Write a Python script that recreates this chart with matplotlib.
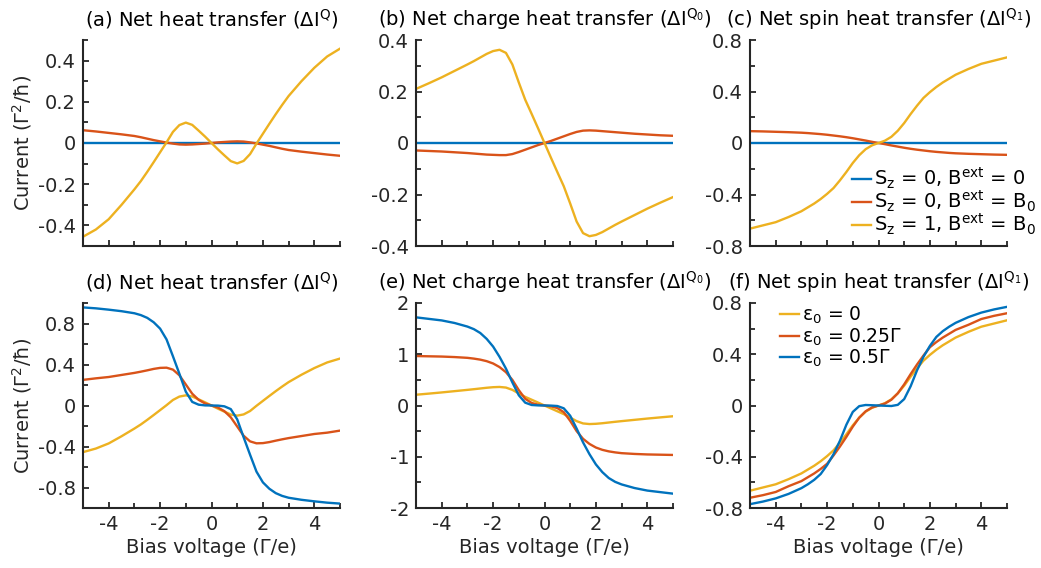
import matplotlib.pyplot as plt
from matplotlib.ticker import MultipleLocator

plt.rcParams['font.family'] = 'DejaVu Sans'
plt.rcParams['mathtext.fontset'] = 'dejavusans'
plt.rcParams['axes.unicode_minus'] = False

# bias voltage grid (Gamma/e)
bias = [-5, -4.5, -4, -3.5, -3, -2.75, -2.5, -2.25, -2, -1.75, -1.5, -1.25, -1, -0.75, -0.5, -0.25, 0,
        0.25, 0.5, 0.75, 1, 1.25, 1.5, 1.75, 2, 2.25, 2.5, 2.75, 3, 3.5, 4, 4.5, 5]

# top row: Sz = 0, B = 0 (all zero)
zero_line = [0.0] * 33

# Sz = 1, B = B0  (same as eps0 = 0 in bottom row)
heat_s1 = [-0.455, -0.42, -0.37, -0.30, -0.225, -0.185, -0.14, -0.093, -0.045, 0.003, 0.054, 0.087, 0.099, 0.088, 0.06, 0.031, 0,
           -0.031, -0.06, -0.088, -0.099, -0.087, -0.054, -0.003, 0.045, 0.093, 0.14, 0.185, 0.228, 0.30, 0.365, 0.42, 0.458]
charge_s1 = [0.21, 0.232, 0.255, 0.28, 0.305, 0.318, 0.332, 0.346, 0.357, 0.362, 0.35, 0.305, 0.235, 0.168, 0.113, 0.057, 0,
             -0.057, -0.113, -0.168, -0.235, -0.305, -0.35, -0.362, -0.357, -0.346, -0.332, -0.318, -0.305, -0.28, -0.255, -0.232, -0.21]
spin_s1 = [-0.665, -0.64, -0.615, -0.575, -0.53, -0.50, -0.47, -0.435, -0.395, -0.35, -0.29, -0.225, -0.155, -0.095, -0.048, -0.018, 0,
           0.018, 0.048, 0.095, 0.155, 0.225, 0.29, 0.35, 0.395, 0.435, 0.47, 0.50, 0.53, 0.575, 0.615, 0.64, 0.665]

# Sz = 0, B = B0
heat_s0b = [0.062, 0.056, 0.049, 0.042, 0.034, 0.028, 0.021, 0.014, 0.008, 0.002, -0.003, -0.007, -0.008, -0.007, -0.005, -0.003, 0,
            0.003, 0.005, 0.007, 0.008, 0.007, 0.003, -0.002, -0.008, -0.014, -0.021, -0.028, -0.034, -0.042, -0.049, -0.056, -0.062]
charge_s0b = [-0.029, -0.031, -0.033, -0.036, -0.039, -0.041, -0.043, -0.045, -0.046, -0.047, -0.047, -0.043, -0.035, -0.026, -0.017, -0.008, 0,
              0.008, 0.017, 0.026, 0.035, 0.043, 0.048, 0.049, 0.048, 0.046, 0.044, 0.042, 0.04, 0.036, 0.033, 0.03, 0.028]
spin_s0b = [0.092, 0.09, 0.087, 0.084, 0.08, 0.077, 0.073, 0.069, 0.064, 0.058, 0.052, 0.045, 0.037, 0.028, 0.019, 0.009, 0,
            -0.009, -0.019, -0.028, -0.037, -0.045, -0.052, -0.058, -0.064, -0.069, -0.073, -0.077, -0.08, -0.084, -0.087, -0.09, -0.092]

# bottom row: eps0 = 0.25 Gamma
heat_e025 = [0.25, 0.265, 0.278, 0.298, 0.318, 0.33, 0.343, 0.357, 0.367, 0.369, 0.35, 0.295, 0.205, 0.115, 0.055, 0.02, 0,
             -0.02, -0.055, -0.115, -0.205, -0.295, -0.35, -0.369, -0.367, -0.357, -0.343, -0.33, -0.318, -0.298, -0.278, -0.265, -0.245]
charge_e025 = [0.965, 0.96, 0.955, 0.945, 0.93, 0.915, 0.895, 0.865, 0.82, 0.75, 0.65, 0.5, 0.3, 0.13, 0.05, 0.015, 0,
               -0.015, -0.05, -0.13, -0.3, -0.5, -0.65, -0.75, -0.82, -0.865, -0.895, -0.915, -0.93, -0.945, -0.955, -0.96, -0.965]
spin_e025 = [-0.72, -0.70, -0.675, -0.63, -0.59, -0.56, -0.53, -0.495, -0.455, -0.39, -0.32, -0.245, -0.165, -0.095, -0.045, -0.015, 0,
             0.015, 0.045, 0.095, 0.165, 0.245, 0.32, 0.39, 0.455, 0.495, 0.53, 0.56, 0.59, 0.63, 0.675, 0.70, 0.72]

# bottom row: eps0 = 0.5 Gamma
heat_e05 = [0.957, 0.948, 0.935, 0.92, 0.90, 0.882, 0.855, 0.812, 0.75, 0.645, 0.48, 0.31, 0.135, 0.035, 0.008, 0.001, 0,
            -0.001, -0.008, -0.035, -0.135, -0.31, -0.48, -0.645, -0.75, -0.812, -0.855, -0.882, -0.90, -0.92, -0.935, -0.948, -0.957]
charge_e05 = [1.72, 1.69, 1.66, 1.61, 1.54, 1.49, 1.415, 1.3, 1.15, 0.95, 0.72, 0.45, 0.2, 0.055, 0.01, 0.002, 0,
              -0.002, -0.01, -0.055, -0.2, -0.45, -0.72, -0.95, -1.15, -1.3, -1.415, -1.49, -1.54, -1.61, -1.66, -1.69, -1.72]
spin_e05 = [-0.77, -0.75, -0.725, -0.69, -0.645, -0.615, -0.58, -0.535, -0.465, -0.38, -0.275, -0.15, -0.05, -0.005, 0.004, 0.002, 0,
            -0.002, -0.004, 0.005, 0.05, 0.15, 0.275, 0.38, 0.465, 0.535, 0.58, 0.615, 0.645, 0.69, 0.725, 0.75, 0.77]

titles = ['(a) Net heat transfer (ΔI$^{\\mathrm{Q}}$)',
          '(b) Net charge heat transfer (ΔI$^{\\mathrm{Q}_0}$)',
          '(c) Net spin heat transfer (ΔI$^{\\mathrm{Q}_1}$)',
          '(d) Net heat transfer (ΔI$^{\\mathrm{Q}}$)',
          '(e) Net charge heat transfer (ΔI$^{\\mathrm{Q}_0}$)',
          '(f) Net spin heat transfer (ΔI$^{\\mathrm{Q}_1}$)']

top_labels = ['S$_\\mathrm{z}$ = 0, B$^{\\mathrm{ext}}$ = 0',
              'S$_\\mathrm{z}$ = 0, B$^{\\mathrm{ext}}$ = B$_0$',
              'S$_\\mathrm{z}$ = 1, B$^{\\mathrm{ext}}$ = B$_0$']
bot_labels = ['ε$_0$ = 0', 'ε$_0$ = 0.25Γ', 'ε$_0$ = 0.5Γ']

blue = '#0072BD'
red = '#D95319'
yellow = '#EDB120'
dark = '#262626'

W, H = 1041, 568
fig = plt.figure(figsize=(W / 100, H / 100), dpi=100)

lefts = [83, 416, 750]
axw = 257
rows = [(40, 246), (303, 508)]

ylims = [(-0.5, 0.5), (-0.4, 0.4), (-0.8, 0.8), (-1, 1), (-2, 2), (-0.8, 0.8)]
ymaj = [0.2, 0.2, 0.4, 0.4, 1, 0.4]
ymin = [0.1, 0.1, 0.2, 0.2, 0.5, 0.2]

top_data = [(zero_line, heat_s0b, heat_s1), (zero_line, charge_s0b, charge_s1), (zero_line, spin_s0b, spin_s1)]
bot_data = [(heat_s1, heat_e025, heat_e05), (charge_s1, charge_e025, charge_e05), (spin_s1, spin_e025, spin_e05)]

fs = 14
axes = []
for r, (ytop, ybot) in enumerate(rows):
    for c, x0 in enumerate(lefts):
        i = r * 3 + c
        ax = fig.add_axes([x0 / W, 1 - ybot / H, axw / W, (ybot - ytop) / H])
        axes.append(ax)
        if r == 0:
            cols = [blue, red, yellow]
            labs = top_labels
            data = top_data[c]
        else:
            cols = [yellow, red, blue]
            labs = bot_labels
            data = bot_data[c]
        for d, col, lab in zip(data, cols, labs):
            ax.plot(bias, d, color=col, lw=1.7, label=lab)
        ax.set_xlim(-5, 5)
        ax.set_ylim(*ylims[i])
        ax.xaxis.set_major_locator(MultipleLocator(2))
        ax.xaxis.set_minor_locator(MultipleLocator(1))
        ax.yaxis.set_major_locator(MultipleLocator(ymaj[i]))
        ax.yaxis.set_minor_locator(MultipleLocator(ymin[i]))
        ax.yaxis.set_major_formatter(plt.FuncFormatter(lambda v, p: '0' if abs(v) < 1e-9 else ('%g' % v)))
        for s in ['top', 'right']:
            ax.spines[s].set_visible(False)
        for s in ['left', 'bottom']:
            ax.spines[s].set_linewidth(1.5)
            ax.spines[s].set_color(dark)
        ax.tick_params(which='major', direction='in', length=4, width=1.3, colors=dark, labelsize=fs, pad=5)
        ax.tick_params(which='minor', direction='in', length=3.5, width=1.3, colors=dark)
        ax.set_title(titles[i], fontsize=fs, color='black', pad=10)
        if r == 0:
            ax.tick_params(labelbottom=False)
        else:
            ax.set_xlabel('Bias voltage (Γ/e)', fontsize=fs, color=dark, labelpad=3)
        if c == 0:
            ax.set_ylabel('Current (Γ$^2$/ħ)', fontsize=fs, color=dark, labelpad=3)

leg1 = axes[2].legend(loc='upper left', bbox_to_anchor=(0.395, 0.39), frameon=False, fontsize=fs,
                      handlelength=1.0, handletextpad=0.15, labelspacing=-0.1, borderpad=0, borderaxespad=0)
leg2 = axes[5].legend(loc='upper left', bbox_to_anchor=(0.118, 0.99), frameon=False, fontsize=13.5,
                      handlelength=1.0, handletextpad=0.15, labelspacing=0.0, borderpad=0, borderaxespad=0)

fig.savefig('out.png', dpi=100)
